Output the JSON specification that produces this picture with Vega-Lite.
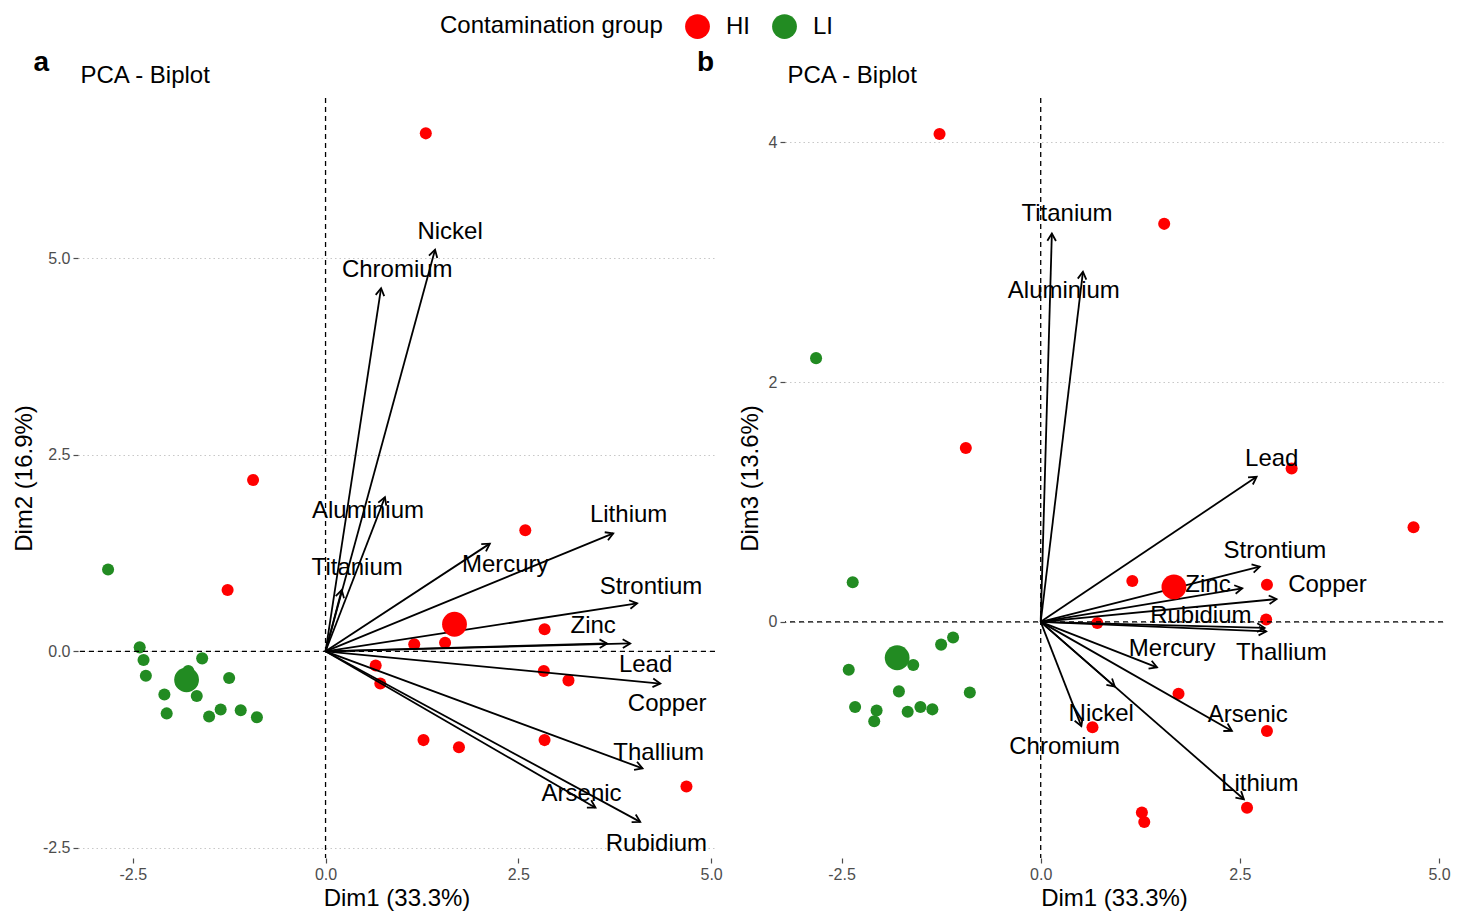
{
  "$schema": "https://vega.github.io/schema/vega-lite/v6.json",
  "padding": {"left": 12, "top": 14, "right": 5, "bottom": 4},
  "background": "white",
  "config": {
    "font": "Liberation Sans",
    "view": {"stroke": null},
    "axis": {
      "domain": false,
      "tickColor": "#4D4D4D",
      "tickSize": 5,
      "tickWidth": 1.2,
      "labelColor": "#4D4D4D",
      "labelFontSize": 16,
      "labelPadding": 3,
      "titleFontSize": 24,
      "titleFontWeight": "normal",
      "titleColor": "black",
      "titlePadding": 6,
      "gridColor": "#C8C8C8",
      "gridDash": [1.5, 3],
      "gridWidth": 1.2
    },
    "legend": {
      "orient": "none",
      "direction": "horizontal",
      "titleOrient": "left",
      "titleFontSize": 24,
      "titleFontWeight": "normal",
      "titleColor": "black",
      "titleLimit": 400,
      "labelFontSize": 24,
      "labelColor": "black",
      "symbolSize": 615,
      "symbolType": "circle",
      "symbolStrokeWidth": 0,
      "labelOffset": 16,
      "columnPadding": 22,
      "titlePadding": 22
    }
  },
  "datasets": {
    "ind": [
      {"group": "HI", "dim1": -1.27, "dim2": 0.78, "dim3": 4.07},
      {"group": "HI", "dim1": -0.94, "dim2": 2.18, "dim3": 1.45},
      {"group": "HI", "dim1": 0.65, "dim2": -0.18, "dim3": -0.88},
      {"group": "HI", "dim1": 0.71, "dim2": -0.41, "dim3": -0.01},
      {"group": "HI", "dim1": 1.15, "dim2": 0.09, "dim3": 0.34},
      {"group": "HI", "dim1": 1.27, "dim2": -1.13, "dim3": -1.59},
      {"group": "HI", "dim1": 1.30, "dim2": 6.59, "dim3": -1.67},
      {"group": "HI", "dim1": 1.55, "dim2": 0.11, "dim3": 3.32},
      {"group": "HI", "dim1": 1.73, "dim2": -1.22, "dim3": -0.60},
      {"group": "HI", "dim1": 2.59, "dim2": 1.54, "dim3": -1.55},
      {"group": "HI", "dim1": 2.84, "dim2": 0.28, "dim3": 0.31},
      {"group": "HI", "dim1": 2.83, "dim2": -0.25, "dim3": 0.02},
      {"group": "HI", "dim1": 2.84, "dim2": -1.13, "dim3": -0.91},
      {"group": "HI", "dim1": 3.15, "dim2": -0.37, "dim3": 1.28},
      {"group": "HI", "dim1": 4.68, "dim2": -1.72, "dim3": 0.79},
      {"group": "LI", "dim1": -2.82, "dim2": 1.04, "dim3": 2.20},
      {"group": "LI", "dim1": -2.41, "dim2": 0.05, "dim3": -0.40},
      {"group": "LI", "dim1": -2.36, "dim2": -0.11, "dim3": 0.33},
      {"group": "LI", "dim1": -2.33, "dim2": -0.31, "dim3": -0.71},
      {"group": "LI", "dim1": -1.60, "dim2": -0.09, "dim3": -0.36},
      {"group": "LI", "dim1": -1.25, "dim2": -0.34, "dim3": -0.19},
      {"group": "LI", "dim1": -2.09, "dim2": -0.55, "dim3": -0.83},
      {"group": "LI", "dim1": -2.06, "dim2": -0.79, "dim3": -0.74},
      {"group": "LI", "dim1": -1.67, "dim2": -0.57, "dim3": -0.75},
      {"group": "LI", "dim1": -1.51, "dim2": -0.83, "dim3": -0.71},
      {"group": "LI", "dim1": -1.36, "dim2": -0.74, "dim3": -0.73},
      {"group": "LI", "dim1": -1.10, "dim2": -0.75, "dim3": -0.13},
      {"group": "LI", "dim1": -0.89, "dim2": -0.84, "dim3": -0.59},
      {"group": "LI", "dim1": -1.78, "dim2": -0.25, "dim3": -0.58}
    ],
    "varA": [
      {"name": "Nickel", "x": 1.42, "y": 5.11, "lx": 1.615, "ly": 5.33},
      {"name": "Chromium", "x": 0.72, "y": 4.62, "lx": 0.93, "ly": 4.85},
      {"name": "Aluminium", "x": 0.77, "y": 1.96, "lx": 0.55, "ly": 1.79},
      {"name": "Titanium", "x": 0.21, "y": 0.78, "lx": 0.41, "ly": 1.06},
      {"name": "Mercury", "x": 2.13, "y": 1.37, "lx": 2.33, "ly": 1.10},
      {"name": "Lithium", "x": 3.73, "y": 1.50, "lx": 3.93, "ly": 1.73},
      {"name": "Strontium", "x": 4.04, "y": 0.61, "lx": 4.22, "ly": 0.82},
      {"name": "Zinc", "x": 3.65, "y": 0.10, "lx": 3.47, "ly": 0.32},
      {"name": "Lead", "x": 3.95, "y": 0.10, "lx": 4.15, "ly": -0.17},
      {"name": "Copper", "x": 4.34, "y": -0.41, "lx": 4.43, "ly": -0.67},
      {"name": "Thallium", "x": 4.11, "y": -1.49, "lx": 4.32, "ly": -1.30},
      {"name": "Arsenic", "x": 3.50, "y": -1.99, "lx": 3.32, "ly": -1.81},
      {"name": "Rubidium", "x": 4.08, "y": -2.17, "lx": 4.29, "ly": -2.45}
    ],
    "varB": [
      {"name": "Titanium", "x": 0.14, "y": 3.24, "lx": 0.33, "ly": 3.40},
      {"name": "Aluminium", "x": 0.53, "y": 2.92, "lx": 0.29, "ly": 2.76},
      {"name": "Lead", "x": 2.71, "y": 1.21, "lx": 2.90, "ly": 1.36},
      {"name": "Strontium", "x": 2.75, "y": 0.46, "lx": 2.94, "ly": 0.59},
      {"name": "Zinc", "x": 2.53, "y": 0.28, "lx": 2.10, "ly": 0.31},
      {"name": "Copper", "x": 2.96, "y": 0.19, "lx": 3.60, "ly": 0.31},
      {"name": "Rubidium", "x": 2.81, "y": -0.05, "lx": 2.01, "ly": 0.05},
      {"name": "Thallium", "x": 2.83, "y": -0.08, "lx": 3.02, "ly": -0.26},
      {"name": "Mercury", "x": 1.46, "y": -0.38, "lx": 1.65, "ly": -0.23},
      {"name": "Arsenic", "x": 2.40, "y": -0.91, "lx": 2.60, "ly": -0.78},
      {"name": "Lithium", "x": 2.55, "y": -1.48, "lx": 2.75, "ly": -1.35},
      {"name": "Nickel", "x": 0.93, "y": -0.54, "lx": 0.76, "ly": -0.77},
      {"name": "Chromium", "x": 0.51, "y": -0.87, "lx": 0.30, "ly": -1.04}
    ]
  },
  "spacing": -26,
  "hconcat": [
    {
      "width": 637,
      "height": 760,
      "title": {"text": "a", "anchor": "start", "frame": "bounds", "fontSize": 28, "fontWeight": "bold", "color": "black", "dx": 21, "offset": -36, "baseline": "alphabetic"},
      "layer": [
        {
          "layer": [
            {
              "data": {"name": "ind"},
              "mark": {"type": "circle", "size": 145, "opacity": 1},
              "encoding": {
                "x": {"field": "dim1", "type": "quantitative", "scale": {"domain": [-3.21, 5.05], "nice": false, "zero": false}, "axis": {"orient": "bottom", "values": [-2.5, 0, 2.5, 5], "labelExpr": "replace(format(datum.value, '.1f'), '\u2212', '-')", "title": "Dim1 (33.3%)", "grid": false, "titlePadding": 4}},
                "y": {"field": "dim2", "type": "quantitative", "scale": {"domain": [-2.63, 7.04], "nice": false, "zero": false}, "axis": {"values": [-2.5, 0, 2.5, 5], "labelExpr": "replace(format(datum.value, '.1f'), '\u2212', '-')", "title": "Dim2 (16.9%)", "grid": true}},
                "color": {"field": "group", "type": "nominal", "scale": {"domain": ["HI", "LI"], "range": ["#FF0000", "#228B22"]}, "legend": {"title": "Contamination group", "legendX": 362, "legendY": -84}}
              }
            },
            {
              "data": {"values": [{}]},
              "mark": {"type": "rule", "color": "black", "strokeDash": [5, 4], "strokeWidth": 1.3},
              "encoding": {"y": {"datum": 0, "type": "quantitative"}}
            },
            {
              "data": {"name": "varA"},
              "mark": {"type": "rule", "color": "black", "strokeWidth": 1.8},
              "encoding": {
                "x": {"field": "x", "type": "quantitative"},
                "y": {"field": "y", "type": "quantitative"},
                "x2": {"datum": 0},
                "y2": {"datum": 0}
              }
            },
            {
              "data": {"name": "varA"},
              "transform": [{"calculate": "atan2(-datum.y*78.59, datum.x*77.12)*180/PI", "as": "ang"}],
              "mark": {"type": "point", "shape": "M -1 -0.58 L 0 0 L -1 0.58", "size": 220, "filled": false, "stroke": "black", "strokeWidth": 1.8, "opacity": 1},
              "encoding": {
                "x": {"field": "x", "type": "quantitative"},
                "y": {"field": "y", "type": "quantitative"},
                "angle": {"field": "ang", "type": "quantitative", "scale": null}
              }
            },
            {
              "data": {"name": "varA"},
              "mark": {"type": "text", "fontSize": 24, "color": "black", "align": "center", "baseline": "middle"},
              "encoding": {
                "x": {"field": "lx", "type": "quantitative"},
                "y": {"field": "ly", "type": "quantitative"},
                "text": {"field": "name"}
              }
            },
            {
              "data": {"name": "ind"},
              "transform": [{"aggregate": [{"op": "mean", "field": "dim1", "as": "dim1"}, {"op": "mean", "field": "dim2", "as": "dim2"}], "groupby": ["group"]}],
              "mark": {"type": "circle", "size": 615, "opacity": 1},
              "encoding": {
                "x": {"field": "dim1", "type": "quantitative"},
                "y": {"field": "dim2", "type": "quantitative"},
                "color": {"field": "group", "type": "nominal"}
              }
            }
          ]
        },
        {
          "data": {"values": [{}]},
          "mark": {"type": "rule", "color": "black", "strokeDash": [5, 4], "strokeWidth": 1.3},
          "encoding": {
            "x": {"datum": 0, "type": "quantitative", "scale": {"domain": [-3.21, 5.05], "nice": false, "zero": false}, "axis": {"orient": "top", "title": "PCA - Biplot", "labels": false, "ticks": false, "grid": false, "domain": false, "titleX": 2, "titleY": -16, "titleAlign": "left", "titleAnchor": null, "titleBaseline": "alphabetic", "titlePadding": 0}}
          }
        }
      ],
      "resolve": {"axis": {"x": "independent"}}
    },
    {
      "width": 658,
      "height": 760,
      "title": {"text": "b", "anchor": "start", "frame": "bounds", "fontSize": 28, "fontWeight": "bold", "color": "black", "dx": -41, "offset": -36, "baseline": "alphabetic"},
      "layer": [
        {
          "layer": [
            {
              "data": {"name": "ind"},
              "mark": {"type": "circle", "size": 145, "opacity": 1},
              "encoding": {
                "x": {"field": "dim1", "type": "quantitative", "scale": {"domain": [-3.21, 5.05], "nice": false, "zero": false}, "axis": {"orient": "bottom", "values": [-2.5, 0, 2.5, 5], "labelExpr": "replace(format(datum.value, '.1f'), '\u2212', '-')", "title": "Dim1 (33.3%)", "grid": false, "titlePadding": 4}},
                "y": {"field": "dim3", "type": "quantitative", "scale": {"domain": [-1.97, 4.37], "nice": false, "zero": false}, "axis": {"values": [0, 2, 4], "format": "d", "title": "Dim3 (13.6%)", "grid": true}},
                "color": {"field": "group", "type": "nominal", "scale": {"domain": ["HI", "LI"], "range": ["#FF0000", "#228B22"]}}
              }
            },
            {
              "data": {"values": [{}]},
              "mark": {"type": "rule", "color": "black", "strokeDash": [5, 4], "strokeWidth": 1.3},
              "encoding": {"y": {"datum": 0, "type": "quantitative"}}
            },
            {
              "data": {"name": "varB"},
              "mark": {"type": "rule", "color": "black", "strokeWidth": 1.8},
              "encoding": {
                "x": {"field": "x", "type": "quantitative"},
                "y": {"field": "y", "type": "quantitative"},
                "x2": {"datum": 0},
                "y2": {"datum": 0}
              }
            },
            {
              "data": {"name": "varB"},
              "transform": [{"calculate": "atan2(-datum.y*119.87, datum.x*79.66)*180/PI", "as": "ang"}],
              "mark": {"type": "point", "shape": "M -1 -0.58 L 0 0 L -1 0.58", "size": 220, "filled": false, "stroke": "black", "strokeWidth": 1.8, "opacity": 1},
              "encoding": {
                "x": {"field": "x", "type": "quantitative"},
                "y": {"field": "y", "type": "quantitative"},
                "angle": {"field": "ang", "type": "quantitative", "scale": null}
              }
            },
            {
              "data": {"name": "varB"},
              "mark": {"type": "text", "fontSize": 24, "color": "black", "align": "center", "baseline": "middle"},
              "encoding": {
                "x": {"field": "lx", "type": "quantitative"},
                "y": {"field": "ly", "type": "quantitative"},
                "text": {"field": "name"}
              }
            },
            {
              "data": {"name": "ind"},
              "transform": [{"aggregate": [{"op": "mean", "field": "dim1", "as": "dim1"}, {"op": "mean", "field": "dim3", "as": "dim3"}], "groupby": ["group"]}],
              "mark": {"type": "circle", "size": 615, "opacity": 1},
              "encoding": {
                "x": {"field": "dim1", "type": "quantitative"},
                "y": {"field": "dim3", "type": "quantitative"},
                "color": {"field": "group", "type": "nominal"}
              }
            }
          ]
        },
        {
          "data": {"values": [{}]},
          "mark": {"type": "rule", "color": "black", "strokeDash": [5, 4], "strokeWidth": 1.3},
          "encoding": {
            "x": {"datum": 0, "type": "quantitative", "scale": {"domain": [-3.21, 5.05], "nice": false, "zero": false}, "axis": {"orient": "top", "title": "PCA - Biplot", "labels": false, "ticks": false, "grid": false, "domain": false, "titleX": 2, "titleY": -16, "titleAlign": "left", "titleAnchor": null, "titleBaseline": "alphabetic", "titlePadding": 0}}
          }
        }
      ],
      "resolve": {"axis": {"x": "independent"}}
    }
  ]
}
